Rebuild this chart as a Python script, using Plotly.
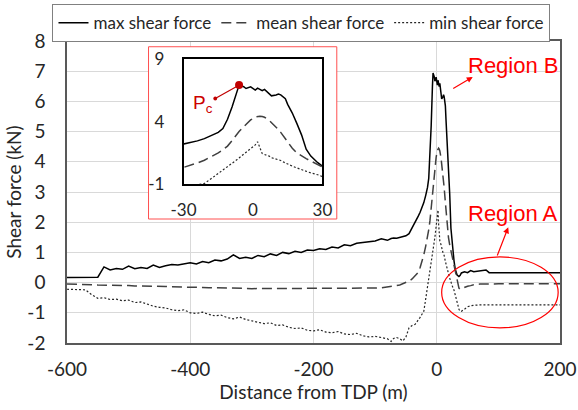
import plotly.graph_objects as go

# ---------------- data ----------------
distance = [-600, -590, -580, -570, -560, -550, -540, -530, -520, -510,
            -500, -490, -480, -470, -460, -450, -440, -430, -420, -410,
            -400, -390, -380, -370, -360, -350, -340, -330, -320, -310,
            -300, -290, -280, -270, -260, -250, -240, -230, -220, -210,
            -200, -190, -180, -170, -160, -150, -140, -130, -120, -110,
            -100, -90, -80, -74, -70, -65, -60, -55, -50, -45,
            -40, -35, -30, -27, -24, -21, -18, -15, -13, -11,
            -9, -7, -6, -4, -3, -1, 1, 2, 3, 4,
            5, 7, 8, 10, 11, 12, 14, 15, 17, 19,
            21, 23, 25, 28, 30, 33, 36, 38, 40, 45,
            50, 55, 60, 70, 80, 85, 90, 100, 120, 140,
            160, 180, 200]

max_shear = [0.17, 0.17, 0.17, 0.17, 0.17, 0.18, 0.52, 0.42, 0.47, 0.44,
             0.55, 0.46, 0.50, 0.47, 0.58, 0.50, 0.56, 0.60, 0.58, 0.62,
             0.66, 0.62, 0.70, 0.66, 0.75, 0.72, 0.78, 0.92, 0.80, 0.84,
             0.80, 0.90, 0.86, 0.95, 0.90, 1.00, 0.96, 1.04, 1.00, 1.08,
             1.06, 1.12, 1.10, 1.18, 1.15, 1.25, 1.22, 1.30, 1.33, 1.36,
             1.38, 1.45, 1.40, 1.46, 1.48, 1.47, 1.50, 1.52, 1.55, 1.62,
             1.80, 2.00, 2.20, 2.33, 2.47, 2.65, 2.88, 3.15, 3.45, 4.20,
             5.20, 6.50, 6.94, 6.81, 6.67, 6.80, 6.54, 6.70, 6.60, 6.49,
             6.60, 6.25, 6.08, 6.15, 6.22, 6.16, 5.85, 5.40, 4.70, 3.85,
             2.95, 1.80, 1.25, 0.72, 0.44, 0.25, 0.20, 0.24, 0.32, 0.36,
             0.33, 0.40, 0.36, 0.40, 0.42, 0.33, 0.33, 0.33, 0.33, 0.33,
             0.33, 0.33, 0.33]

mean_shear = [-0.05, -0.05, -0.06, -0.06, -0.07, -0.08, -0.08, -0.09, -0.09, -0.10,
              -0.10, -0.11, -0.11, -0.12, -0.12, -0.13, -0.13, -0.14, -0.14, -0.15,
              -0.15, -0.16, -0.16, -0.17, -0.17, -0.18, -0.18, -0.19, -0.19, -0.19,
              -0.20, -0.20, -0.20, -0.20, -0.20, -0.20, -0.20, -0.20, -0.20, -0.20,
              -0.20, -0.20, -0.20, -0.20, -0.20, -0.20, -0.20, -0.20, -0.20, -0.19,
              -0.18, -0.17, -0.15, -0.13, -0.12, -0.10, -0.08, -0.04, 0.00, 0.05,
              0.12, 0.22, 0.34, 0.50, 0.70, 0.92, 1.20, 1.50, 1.75, 2.05,
              2.50, 3.00, 3.22, 3.60, 3.80, 4.15, 4.38, 4.44, 4.45, 4.42,
              4.36, 4.12, 3.95, 3.60, 3.38, 3.15, 2.65, 2.38, 1.88, 1.50,
              1.25, 1.05, 0.85, 0.55, 0.39, 0.05, -0.18, -0.22, -0.20, -0.15,
              -0.12, -0.10, -0.07, -0.05, -0.04, -0.04, -0.04, -0.04, -0.04, -0.04,
              -0.04, -0.04, -0.04]

min_shear = [-0.22, -0.22, -0.22, -0.24, -0.40, -0.52, -0.50, -0.56, -0.55, -0.60,
             -0.58, -0.66, -0.64, -0.72, -0.78, -0.82, -0.84, -0.90, -0.93, -0.90,
             -1.00, -1.02, -0.98, -1.05, -1.10, -1.08, -1.16, -1.20, -1.14, -1.22,
             -1.26, -1.30, -1.36, -1.33, -1.42, -1.40, -1.48, -1.52, -1.50, -1.58,
             -1.60, -1.56, -1.64, -1.66, -1.62, -1.70, -1.72, -1.68, -1.76, -1.80,
             -1.78, -1.82, -1.86, -1.95, -1.85, -1.82, -1.86, -1.93, -1.80, -1.50,
             -1.42, -1.38, -1.25, -1.15, -1.05, -0.95, -0.55, -0.15, 0.08, 0.38,
             0.68, 0.95, 1.10, 1.40, 1.50, 1.86, 2.15, 2.40, 1.95, 1.45,
             1.38, 1.25, 1.12, 1.00, 0.94, 0.90, 0.70, 0.60, 0.45, 0.30,
             0.15, 0.00, -0.10, -0.25, -0.41, -0.70, -0.88, -0.95, -0.95, -0.88,
             -0.80, -0.77, -0.75, -0.74, -0.74, -0.74, -0.74, -0.74, -0.74, -0.74,
             -0.74, -0.74, -0.74]

series_names = ["max shear force", "mean shear force", "min shear force"]
x_ticks = [-600, -400, -200, 0, 200]
x_tick_labels = ["-600", "-400", "-200", "0", "200"]
y_ticks = [-2, -1, 0, 1, 2, 3, 4, 5, 6, 7, 8]
y_tick_labels = ["-2", "-1", "0", "1", "2", "3", "4", "5", "6", "7", "8"]
inset_x_ticks = [-30, 0, 30]
inset_x_labels = ["-30", "0", "30"]
inset_y_ticks = [-1, 4, 9]
inset_y_labels = ["-1", "4", "9"]
pc_distance = -6
pc_value = max_shear[distance.index(pc_distance)]

# ---------------- figure ----------------
TICK_FONT = dict(family="Lato", size=19, color="#262626")
styles = [dict(color="#000000", width=1.5, dash="solid"),
          dict(color="#404040", width=1.5, dash="10px,5px"),
          dict(color="#262626", width=1.2, dash="2px,2px")]

fig = go.Figure()
for name, ys, st in zip(series_names, [max_shear, mean_shear, min_shear], styles):
    fig.add_trace(go.Scatter(x=distance, y=ys, mode="lines", name=name,
                             line=st, xaxis="x", yaxis="y"))
# inset traces (same data, zoomed axes)
for name, ys, st in zip(series_names, [max_shear, mean_shear, min_shear], styles):
    fig.add_trace(go.Scatter(x=distance, y=ys, mode="lines", name=name,
                             line=st, xaxis="x2", yaxis="y2", showlegend=False))
fig.add_trace(go.Scatter(x=[pc_distance], y=[pc_value], mode="markers",
                         marker=dict(color="#c00000", size=8),
                         xaxis="x2", yaxis="y2", showlegend=False))

fig.update_layout(
    width=578, height=410,
    margin=dict(l=67, r=18, t=41, b=67, autoexpand=False),
    paper_bgcolor="white", plot_bgcolor="white",
    font=dict(family="Lato", color="#262626"),
    xaxis=dict(range=[-600, 200], tickvals=x_ticks, ticktext=x_tick_labels, showgrid=True,
               gridcolor="#d9d9d9", gridwidth=1, zeroline=False,
               showline=True, mirror=True, linecolor="#595959", linewidth=1.5,
               ticks="", ticklabelstandoff=8, tickfont=TICK_FONT, automargin=False,
               title=dict(text="Distance from TDP (m)", font=dict(family="Lato", size=19, color="#262626"),
                          standoff=3)),
    yaxis=dict(range=[-2, 8], tickvals=y_ticks, ticktext=y_tick_labels, showgrid=True,
               gridcolor="#d9d9d9", gridwidth=1, zeroline=False,
               showline=True, mirror=True, linecolor="#595959", linewidth=1.5,
               ticks="", ticklabelstandoff=16, tickfont=TICK_FONT, automargin=False,
               title=dict(text="Shear force (kN)", font=dict(family="Lato", size=19, color="#262626"),
                          standoff=1)),
    xaxis2=dict(domain=[0.2364, 0.518], anchor="y2", range=[-30, 30],
                tickvals=inset_x_ticks, ticktext=inset_x_labels, showgrid=False, zeroline=False,
                showline=True, mirror=True, linecolor="#000000", linewidth=1.5,
                ticks="", ticklabelstandoff=10, automargin=False,
                tickfont=dict(family="Lato", size=17, color="#262626")),
    yaxis2=dict(domain=[0.526, 0.939], anchor="x2", range=[-1, 9],
                tickvals=inset_y_ticks, ticktext=inset_y_labels, showgrid=False, zeroline=False,
                showline=True, mirror=True, linecolor="#000000", linewidth=1.5,
                ticks="", ticklabelstandoff=14, automargin=False,
                tickfont=dict(family="Lato", size=17, color="#262626")),
    legend=dict(orientation="h", xref="container", yref="container",
                x=0.5216, xanchor="center", y=0.99, yanchor="top",
                bordercolor="#808080", borderwidth=1, bgcolor="white",
                font=dict(family="Lato", size=17, color="#262626"),
                itemwidth=30, tracegroupgap=0),
    showlegend=True,
)

# inset frame (white background over main gridlines)
fig.add_shape(type="rect", xref="x", yref="y", x0=-467.7, x1=-162.2, y0=2.106, y1=7.81,
              fillcolor="white", line=dict(color="#ff5050", width=1), layer="between")

# Region A ellipse
fig.add_shape(type="circle", xref="x", yref="y", x0=8, x1=197, y0=-1.5, y1=0.85,
              line=dict(color="#ff0000", width=1.2), layer="above")

RED = "#ff0000"
# Region B
fig.add_annotation(x=58.4, y=6.81, ax=24.3, ay=6.4, axref="x", ayref="y", xref="x", yref="y",
                   text="", showarrow=True, arrowhead=2, arrowsize=1, arrowwidth=1.2, arrowcolor=RED)
fig.add_annotation(x=124, y=7.2, xref="x", yref="y", text="Region B", showarrow=False,
                   font=dict(family="Liberation Sans", size=22, color=RED))
# Region A
fig.add_annotation(x=116, y=1.83, ax=97.3, ay=0.85, axref="x", ayref="y", xref="x", yref="y",
                   text="", showarrow=True, arrowhead=2, arrowsize=1, arrowwidth=1.2, arrowcolor=RED)
fig.add_annotation(x=124, y=2.3, xref="x", yref="y", text="Region A", showarrow=False,
                   font=dict(family="Liberation Sans", size=22, color=RED))
# Pc
fig.add_annotation(x=-16.3, y=5.87, ax=pc_distance, ay=pc_value, axref="x2", ayref="y2",
                   xref="x2", yref="y2", text="", showarrow=True, arrowhead=6,
                   arrowsize=0.8, arrowwidth=1.2, arrowcolor="#c00000")
fig.add_annotation(x=-21.5, y=5.4, xref="x2", yref="y2", text="P<sub>c</sub>", showarrow=False,
                   font=dict(family="Liberation Sans", size=19, color="#cc0000"))

fig.write_html("out.html", config={"displayModeBar": False},
               post_script="document.body.style.margin='0';")
